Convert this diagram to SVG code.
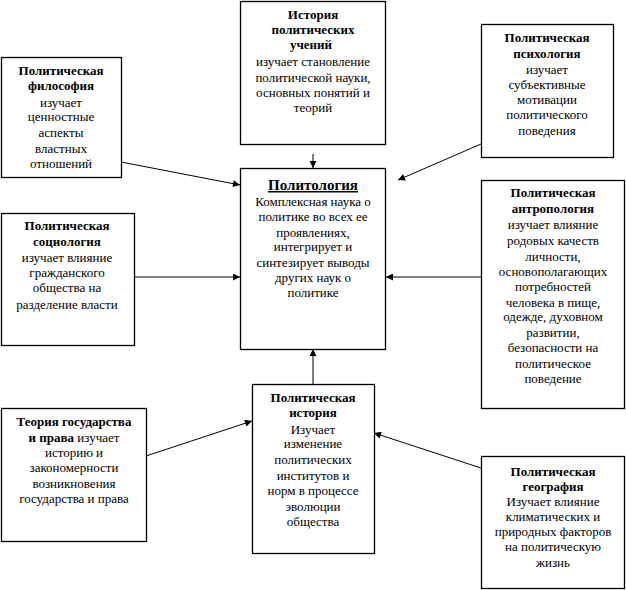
<svg xmlns="http://www.w3.org/2000/svg" width="626" height="590" viewBox="0 0 626 590">
<style>
  .box{fill:#fff;stroke:#000;stroke-width:1.3}
  .c{stroke:#000;stroke-width:1;fill:none;marker-end:url(#ah)}
</style>
<defs>
  <marker id="ah" viewBox="0 0 10 10" refX="10" refY="5" markerWidth="8" markerHeight="7" markerUnits="userSpaceOnUse" orient="auto">
    <path d="M0,0 L10,5 L0,10 Z" fill="#000"/>
  </marker>
</defs>
<rect width="626" height="590" fill="#fff"/>
<g id="connectors">
  <line class="c" x1="313" y1="154" x2="313" y2="168"/>
  <line class="c" x1="121" y1="162" x2="240" y2="185"/>
  <line class="c" x1="481" y1="144" x2="398" y2="180"/>
  <line class="c" x1="134" y1="277" x2="240" y2="277"/>
  <line class="c" x1="481" y1="277" x2="386" y2="277"/>
  <line class="c" x1="313" y1="384" x2="313" y2="349"/>
  <line class="c" x1="146" y1="456" x2="252" y2="421"/>
  <line class="c" x1="481" y1="468" x2="374" y2="433"/>
</g>
<g id="history-teachings">
  <rect class="box" x="240.5" y="1.5" width="145" height="143"/>
  <text font-family="Liberation Serif" font-size="13" text-anchor="middle" font-weight="bold" x="313" y="19">История</text>
  <text font-family="Liberation Serif" font-size="13" text-anchor="middle" font-weight="bold" x="313" y="34">политических</text>
  <text font-family="Liberation Serif" font-size="13" text-anchor="middle" font-weight="bold" x="311" y="49">учений</text>
  <text font-family="Liberation Serif" font-size="13" text-anchor="middle" x="313" y="66">изучает становление</text>
  <text font-family="Liberation Serif" font-size="13" text-anchor="middle" x="313" y="82">политической науки,</text>
  <text font-family="Liberation Serif" font-size="13" text-anchor="middle" x="313" y="97">основных понятий и</text>
  <text font-family="Liberation Serif" font-size="13" text-anchor="middle" x="313" y="112">теорий</text>
</g>
<g id="politology">
  <rect class="box" x="240.5" y="168.5" width="145" height="181"/>
  <text font-family="Liberation Serif" font-size="15" text-anchor="middle" font-weight="bold" text-decoration="underline" x="313" y="190">Политология</text>
  <text font-family="Liberation Serif" font-size="13" text-anchor="middle" x="313" y="206">Комплексная наука о</text>
  <text font-family="Liberation Serif" font-size="13" text-anchor="middle" x="313" y="221">политике во всех ее</text>
  <text font-family="Liberation Serif" font-size="13" text-anchor="middle" x="313" y="237">проявлениях,</text>
  <text font-family="Liberation Serif" font-size="13" text-anchor="middle" x="313" y="251">интегрирует и</text>
  <text font-family="Liberation Serif" font-size="13" text-anchor="middle" x="313" y="267">синтезирует выводы</text>
  <text font-family="Liberation Serif" font-size="13" text-anchor="middle" x="313" y="282">других наук о</text>
  <text font-family="Liberation Serif" font-size="13" text-anchor="middle" x="313" y="297">политике</text>
</g>
<g id="philosophy">
  <rect class="box" x="1.5" y="57.5" width="120" height="120"/>
  <text font-family="Liberation Serif" font-size="13" text-anchor="middle" font-weight="bold" x="61" y="75">Политическая</text>
  <text font-family="Liberation Serif" font-size="13" text-anchor="middle" font-weight="bold" x="61" y="90">философия</text>
  <text font-family="Liberation Serif" font-size="13" text-anchor="middle" x="61" y="107">изучает</text>
  <text font-family="Liberation Serif" font-size="13" text-anchor="middle" x="61" y="121">ценностные</text>
  <text font-family="Liberation Serif" font-size="13" text-anchor="middle" x="61" y="137">аспекты</text>
  <text font-family="Liberation Serif" font-size="13" text-anchor="middle" x="61" y="153">властных</text>
  <text font-family="Liberation Serif" font-size="13" text-anchor="middle" x="61" y="168">отношений</text>
</g>
<g id="psychology">
  <rect class="box" x="481.5" y="24.5" width="132" height="133"/>
  <text font-family="Liberation Serif" font-size="13" text-anchor="middle" font-weight="bold" x="547" y="42">Политическая</text>
  <text font-family="Liberation Serif" font-size="13" text-anchor="middle" font-weight="bold" x="547" y="58">психология</text>
  <text font-family="Liberation Serif" font-size="13" text-anchor="middle" x="547" y="74">изучает</text>
  <text font-family="Liberation Serif" font-size="13" text-anchor="middle" x="547" y="89">субъективные</text>
  <text font-family="Liberation Serif" font-size="13" text-anchor="middle" x="547" y="104">мотивации</text>
  <text font-family="Liberation Serif" font-size="13" text-anchor="middle" x="547" y="119">политического</text>
  <text font-family="Liberation Serif" font-size="13" text-anchor="middle" x="547" y="135">поведения</text>
</g>
<g id="sociology">
  <rect class="box" x="1.5" y="213.5" width="133" height="132"/>
  <text font-family="Liberation Serif" font-size="13" text-anchor="middle" font-weight="bold" x="67" y="230">Политическая</text>
  <text font-family="Liberation Serif" font-size="13" text-anchor="middle" font-weight="bold" x="67" y="246">социология</text>
  <text font-family="Liberation Serif" font-size="13" text-anchor="middle" x="67" y="262">изучает влияние</text>
  <text font-family="Liberation Serif" font-size="13" text-anchor="middle" x="67" y="277">гражданского</text>
  <text font-family="Liberation Serif" font-size="13" text-anchor="middle" x="67" y="292">общества на</text>
  <text font-family="Liberation Serif" font-size="13" text-anchor="middle" x="67" y="309">разделение власти</text>
</g>
<g id="anthropology">
  <rect class="box" x="481.5" y="180.5" width="143" height="228"/>
  <text font-family="Liberation Serif" font-size="13" text-anchor="middle" font-weight="bold" x="553" y="197">Политическая</text>
  <text font-family="Liberation Serif" font-size="13" text-anchor="middle" font-weight="bold" x="553" y="213">антропология</text>
  <text font-family="Liberation Serif" font-size="13" text-anchor="middle" x="553" y="229">изучает влияние</text>
  <text font-family="Liberation Serif" font-size="13" text-anchor="middle" x="553" y="245">родовых качеств</text>
  <text font-family="Liberation Serif" font-size="13" text-anchor="middle" x="553" y="261">личности,</text>
  <text font-family="Liberation Serif" font-size="13" text-anchor="middle" x="553" y="276">основополагающих</text>
  <text font-family="Liberation Serif" font-size="13" text-anchor="middle" x="553" y="291">потребностей</text>
  <text font-family="Liberation Serif" font-size="13" text-anchor="middle" x="553" y="307">человека в пище,</text>
  <text font-family="Liberation Serif" font-size="13" text-anchor="middle" x="553" y="321">одежде, духовном</text>
  <text font-family="Liberation Serif" font-size="13" text-anchor="middle" x="553" y="337">развитии,</text>
  <text font-family="Liberation Serif" font-size="13" text-anchor="middle" x="553" y="352">безопасности на</text>
  <text font-family="Liberation Serif" font-size="13" text-anchor="middle" x="553" y="368">политическое</text>
  <text font-family="Liberation Serif" font-size="13" text-anchor="middle" x="553" y="383">поведение</text>
</g>
<g id="state-law">
  <rect class="box" x="1.5" y="408.5" width="145" height="133"/>
  <text font-family="Liberation Serif" font-size="13" text-anchor="middle" font-weight="bold" x="74" y="426">Теория государства</text>
  <text font-family="Liberation Serif" font-size="13" text-anchor="middle" x="74" y="442"><tspan font-weight="bold">и права</tspan> изучает</text>
  <text font-family="Liberation Serif" font-size="13" text-anchor="middle" x="74" y="457">историю и</text>
  <text font-family="Liberation Serif" font-size="13" text-anchor="middle" x="74" y="472">закономерности</text>
  <text font-family="Liberation Serif" font-size="13" text-anchor="middle" x="74" y="488">возникновения</text>
  <text font-family="Liberation Serif" font-size="13" text-anchor="middle" x="74" y="503">государства и права</text>
</g>
<g id="political-history">
  <rect class="box" x="252.5" y="384.5" width="122" height="169"/>
  <text font-family="Liberation Serif" font-size="13" text-anchor="middle" font-weight="bold" x="313" y="402">Политическая</text>
  <text font-family="Liberation Serif" font-size="13" text-anchor="middle" font-weight="bold" x="313" y="417">история</text>
  <text font-family="Liberation Serif" font-size="13" text-anchor="middle" x="313" y="434">Изучает</text>
  <text font-family="Liberation Serif" font-size="13" text-anchor="middle" x="313" y="448">изменение</text>
  <text font-family="Liberation Serif" font-size="13" text-anchor="middle" x="313" y="464">политических</text>
  <text font-family="Liberation Serif" font-size="13" text-anchor="middle" x="313" y="480">институтов и</text>
  <text font-family="Liberation Serif" font-size="13" text-anchor="middle" x="313" y="495">норм в процессе</text>
  <text font-family="Liberation Serif" font-size="13" text-anchor="middle" x="313" y="511">эволюции</text>
  <text font-family="Liberation Serif" font-size="13" text-anchor="middle" x="313" y="526">общества</text>
</g>
<g id="geography">
  <rect class="box" x="481.5" y="456.5" width="143" height="132"/>
  <text font-family="Liberation Serif" font-size="13" text-anchor="middle" font-weight="bold" x="553" y="476">Политическая</text>
  <text font-family="Liberation Serif" font-size="13" text-anchor="middle" font-weight="bold" x="553" y="491">география</text>
  <text font-family="Liberation Serif" font-size="13" text-anchor="middle" x="553" y="506">Изучает влияние</text>
  <text font-family="Liberation Serif" font-size="13" text-anchor="middle" x="553" y="521">климатических и</text>
  <text font-family="Liberation Serif" font-size="13" text-anchor="middle" x="553" y="536">природных факторов</text>
  <text font-family="Liberation Serif" font-size="13" text-anchor="middle" x="553" y="551">на политическую</text>
  <text font-family="Liberation Serif" font-size="13" text-anchor="middle" x="553" y="567">жизнь</text>
</g>
</svg>
